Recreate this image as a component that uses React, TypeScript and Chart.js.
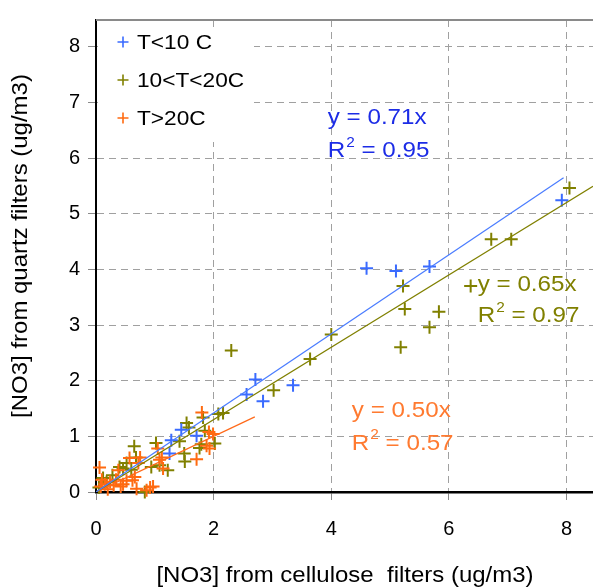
import React, { useEffect, useRef } from "react";
import { Chart, registerables } from "chart.js";

Chart.register(...registerables);

// ---------- data ----------
const seriesLabels = ["T<10 C", "10<T<20C", "T>20C"];

const coldX = [1.25, 1.28, 1.45, 1.71, 2.56, 2.71, 2.84, 3.35, 4.6, 5.1, 5.67, 7.92];
const coldY = [0.69, 0.93, 1.12, 1.01, 1.75, 2.02, 1.63, 1.92, 4.02, 3.97, 4.05, 5.24];

const midX = [0.05, 0.12, 0.18, 0.28, 0.4, 0.46, 0.52, 0.6, 0.65, 0.68, 0.83, 0.94, 1.02, 1.08, 1.22, 1.42, 1.5, 1.51, 1.54, 1.58, 1.76, 1.79, 1.82, 1.85, 2.02, 2.08, 2.16, 2.3, 3.02, 3.64, 4.0, 5.18, 5.22, 5.25, 5.67, 5.83, 6.37, 6.72, 7.06, 8.05];
const midY = [0.08, 0.25, 0.18, 0.3, 0.45, 0.42, 0.52, 0.4, 0.82, 0.62, 0.0, 0.45, 0.88, 0.48, 0.39, 0.91, 0.69, 0.55, 1.24, 1.16, 0.79, 0.86, 1.34, 1.1, 0.87, 1.4, 1.42, 2.54, 1.83, 2.39, 2.83, 2.6, 3.7, 3.29, 2.96, 3.24, 3.7, 4.54, 4.54, 5.46];

const hotX = [0.06, 0.08, 0.1, 0.15, 0.2, 0.24, 0.3, 0.34, 0.38, 0.42, 0.46, 0.52, 0.57, 0.62, 0.66, 0.69, 0.72, 0.75, 0.86, 0.92, 0.97, 1.05, 1.08, 1.12, 1.14, 1.71, 1.8, 1.88, 1.93, 1.92, 1.99];
const hotY = [0.44, 0.1, 0.22, 0.14, 0.05, 0.18, 0.12, 0.22, 0.39, 0.1, 0.14, 0.2, 0.61, 0.21, 0.27, 0.06, 0.52, 0.62, 0.03, 0.08, 0.1, 0.78, 0.58, 0.62, 0.42, 0.59, 1.43, 0.83, 0.78, 1.08, 1.04];

const slopes = [0.71, 0.65, 0.5];
const r2Values = ["0.95", "0.97", "0.57"];
const fitEndX = [7.95, 8.45, 2.7];

const xTickValues = [0, 2, 4, 6, 8];
const yTickValues = [0, 1, 2, 3, 4, 5, 6, 7, 8];

const xTitle = "[NO3] from cellulose  filters (ug/m3)";
const yTitle = "[NO3] from quartz filters (ug/m3)";

// ---------- styles ----------
const markerColors = ["#3a6bff", "#808000", "#ff6a10"];
const lineColors = ["#4a7cff", "#808000", "#ff6a1a"];
const textColors = ["#1c2ce6", "#808000", "#ff7a30"];
const FONT = "'Liberation Sans', Arial, sans-serif";
// annotation anchors in data units: [x, y of equation, y of R2]
const eqAnchors = [
  [3.94, 6.72, 6.12],
  [6.49, 3.72, 3.16],
  [4.35, 1.45, 0.87],
];

function toPoints(xs: number[], ys: number[]) {
  return xs.map((x, i) => ({ x, y: ys[i] }));
}

function stretchText(ctx: CanvasRenderingContext2D, text: string, x: number, y: number, sx: number, align: CanvasTextAlign) {
  ctx.save();
  ctx.translate(x, y);
  ctx.scale(sx, 1);
  ctx.textAlign = align;
  ctx.fillText(text, 0, 0);
  ctx.restore();
  return ctx.measureText(text).width * sx;
}

const overlayPlugin = {
  id: "overlay",
  afterDraw(chart: any) {
    const ctx: CanvasRenderingContext2D = chart.ctx;
    const area = chart.chartArea;
    const xs = chart.scales.x;
    const ys = chart.scales.y;
    ctx.save();

    // top frame line
    ctx.strokeStyle = "#8a8a8a";
    ctx.lineWidth = 2;
    ctx.beginPath();
    ctx.moveTo(area.left, area.top);
    ctx.lineTo(area.right, area.top);
    ctx.stroke();

    // legend box
    ctx.fillStyle = "#ffffff";
    ctx.fillRect(area.left + 2, area.top + 8, 156, 114);
    const rowY = [42, 80, 118];
    seriesLabels.forEach((lab, i) => {
      const cx = 123;
      const cy = rowY[i];
      ctx.strokeStyle = markerColors[i];
      ctx.lineWidth = 1.6;
      ctx.beginPath();
      ctx.moveTo(cx - 5.5, cy);
      ctx.lineTo(cx + 5.5, cy);
      ctx.moveTo(cx, cy - 5.5);
      ctx.lineTo(cx, cy + 5.5);
      ctx.stroke();
      ctx.fillStyle = "#000";
      ctx.font = `21px ${FONT}`;
      ctx.textBaseline = "middle";
      stretchText(ctx, lab, 137, cy + 1, 1.08, "left");
    });

    // regression annotations
    eqAnchors.forEach((a, i) => {
      const px = xs.getPixelForValue(a[0]);
      const py1 = ys.getPixelForValue(a[1]);
      const py2 = ys.getPixelForValue(a[2]);
      ctx.fillStyle = textColors[i];
      ctx.textBaseline = "middle";
      ctx.font = `22px ${FONT}`;
      stretchText(ctx, `y = ${slopes[i].toFixed(2)}x`, px, py1, 1.1, "left");
      let w = stretchText(ctx, "R", px, py2, 1.1, "left");
      ctx.font = `14px ${FONT}`;
      const w2 = stretchText(ctx, "2", px + w + 1, py2 - 8, 1.1, "left");
      ctx.font = `22px ${FONT}`;
      stretchText(ctx, ` = ${r2Values[i]}`, px + w + w2 + 1, py2, 1.1, "left");
    });

    // axis titles
    ctx.fillStyle = "#000";
    ctx.font = `22px ${FONT}`;
    ctx.textBaseline = "middle";
    stretchText(ctx, xTitle, 345, 576, 1.09, "center");
    ctx.save();
    ctx.translate(21, 246);
    ctx.rotate(-Math.PI / 2);
    stretchText(ctx, yTitle, 0, 0, 1.09, "center");
    ctx.restore();

    ctx.restore();
  },
};

export default function App() {
  const ref = useRef<HTMLCanvasElement | null>(null);

  useEffect(() => {
    if (!ref.current) return;
    const pointSets = [toPoints(coldX, coldY), toPoints(midX, midY), toPoints(hotX, hotY)];
    const pointOrder = [2, 3, 1];
    const scatterSets = pointSets.map((pts, i) => ({
      type: "scatter" as const,
      label: seriesLabels[i],
      data: pts,
      pointStyle: "cross" as const,
      pointRadius: 6.5,
      pointBorderWidth: 2,
      borderColor: markerColors[i],
      backgroundColor: markerColors[i],
      showLine: false,
      clip: false as any,
      order: pointOrder[i],
    }));
    const fitSets = slopes.map((s, i) => ({
      type: "line" as const,
      label: "fit " + seriesLabels[i],
      data: [
        { x: 0, y: 0 },
        { x: fitEndX[i], y: s * fitEndX[i] },
      ],
      borderColor: lineColors[i],
      borderWidth: 1.2,
      pointRadius: 0,
      showLine: true,
      fill: false,
      order: 0,
    }));

    const chart = new Chart(ref.current, {
      type: "scatter",
      data: { datasets: [...scatterSets, ...fitSets] as any },
      options: {
        animation: false,
        responsive: false,
        maintainAspectRatio: false,
        layout: { autoPadding: false, padding: { top: 14, left: 0, right: 0, bottom: 0 } },
        plugins: {
          legend: { display: false },
          tooltip: { enabled: false },
          title: { display: false },
        },
        scales: {
          x: {
            type: "linear",
            min: 0,
            max: 8.45,
            afterFit: (s: any) => {
              s.height = 95;
            },
            afterBuildTicks: (s: any) => {
              s.ticks = xTickValues.map((v) => ({ value: v }));
            },
            ticks: {
              stepSize: 2,
              includeBounds: false,
              color: "#000",
              font: { family: FONT, size: 20 },
              padding: 17,
              maxRotation: 0,
            },
            grid: {
              color: "#a0a0a0",
              lineWidth: 1,
              tickLength: 8,
              tickColor: "#8a8a8a",
              tickBorderDash: [],
              drawTicks: true,
            },
            border: { display: true, color: "#000", width: 2.5, dash: [7, 5] },
          },
          y: {
            type: "linear",
            min: 0,
            max: 8.48,
            afterFit: (s: any) => {
              s.width = 96;
            },
            afterBuildTicks: (s: any) => {
              s.ticks = yTickValues.map((v) => ({ value: v }));
            },
            ticks: {
              stepSize: 1,
              includeBounds: false,
              color: "#000",
              font: { family: FONT, size: 20 },
              padding: 8,
            },
            grid: {
              color: "#a0a0a0",
              lineWidth: 1,
              tickLength: 8,
              tickColor: "#8a8a8a",
              tickBorderDash: [],
              drawTicks: true,
            },
            border: { display: true, color: "#000", width: 2, dash: [7, 5] },
          },
        },
      } as any,
      plugins: [overlayPlugin],
    });
    return () => chart.destroy();
  }, []);

  return (
    <div style={{ position: "absolute", left: 0, top: 0, width: 593, height: 587, background: "#fff" }}>
      <canvas ref={ref} width={593} height={587} style={{ display: "block" }} />
    </div>
  );
}
